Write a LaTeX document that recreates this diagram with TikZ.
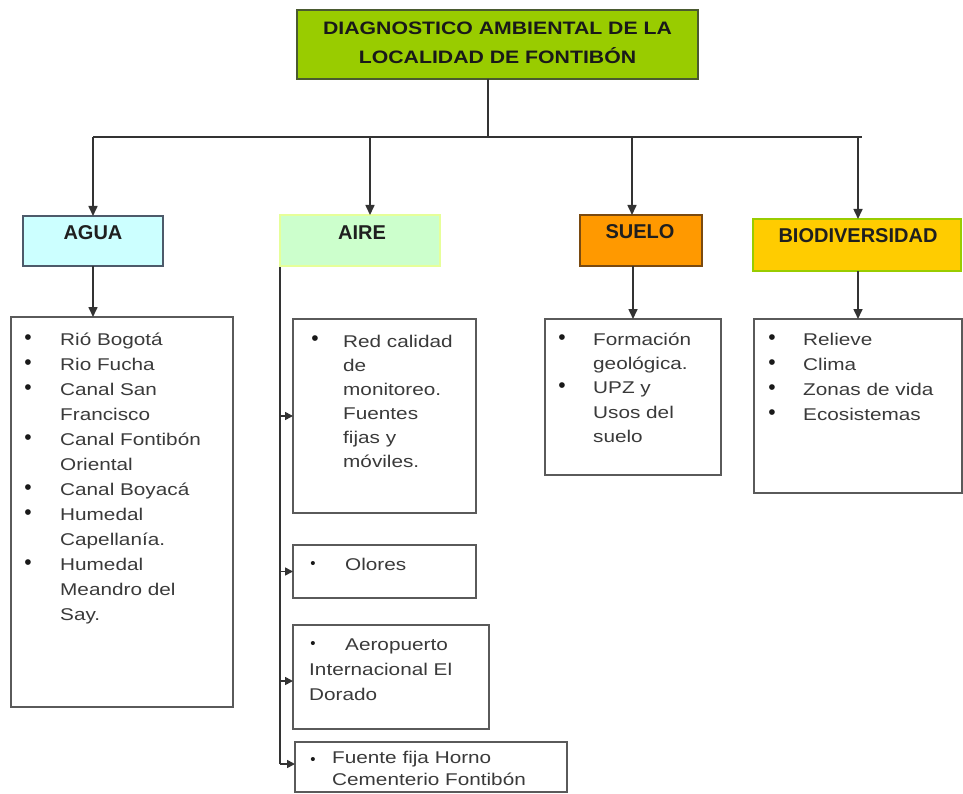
\documentclass[tikz,border=0pt]{standalone}
\usepackage{fontspec}
\setmainfont{Liberation Sans}
\newfontfamily\listfont{Liberation Sans}[FakeStretch=1.22]
\newfontfamily\titlefont{Liberation Sans}[FakeStretch=1.18]
\usetikzlibrary{arrows.meta}
\definecolor{titlegreen}{HTML}{99CC00}
\definecolor{titleborder}{HTML}{4A5A30}
\definecolor{aguafill}{HTML}{CCFFFF}
\definecolor{aguaborder}{HTML}{4D5A6A}
\definecolor{airefill}{HTML}{CCFFCC}
\definecolor{aireborder}{HTML}{E6FF99}
\definecolor{suelofill}{HTML}{FF9900}
\definecolor{sueloborder}{HTML}{7A4A10}
\definecolor{biofill}{HTML}{FFCC00}
\definecolor{bioborder}{HTML}{99CC00}
\definecolor{boxgray}{HTML}{5A5A5A}
\definecolor{linegray}{HTML}{333333}
\definecolor{listtext}{HTML}{3A3A3A}
\begin{document}
\begin{tikzpicture}[x=1pt,y=-1pt,
  rbox/.style={rectangle, anchor=north west, inner sep=0pt, outer sep=0pt},
  catbox/.style={rbox, line width=1.4pt},
  listbox/.style={rbox, draw=boxgray, line width=1.6pt, fill=white},
  cattext/.style={font=\fontsize{20}{20}\selectfont\bfseries, text=black!88, inner sep=0pt},
  titletext/.style={font=\titlefont\fontsize{18}{18}\selectfont\bfseries, text=black!90, inner sep=0pt},
  lt/.style={font=\listfont\fontsize{17}{17}\selectfont, text=listtext, anchor=base west, inner sep=0pt},
  bul/.style={font=\fontsize{21}{21}\selectfont, text=black!90, inner sep=0pt},
  sbul/.style={font=\fontsize{15}{15}\selectfont, text=black!90, inner sep=0pt},
  conn/.style={draw=linegray, line width=1.6pt},
  arr/.style={conn, -{Triangle[length=10pt,width=9pt]}},
  sarr/.style={conn, -{Triangle[length=8pt,width=8pt]}}]
\useasboundingbox (0,0) rectangle (963,794);

% title
\node[catbox, draw=titleborder, fill=titlegreen, minimum width=401, minimum height=69] (title) at (297,10) {};
\node[titletext] (title1) at (497.5,28) {DIAGNOSTICO AMBIENTAL DE LA};
\node[titletext] (title2) at (497.5,56) {LOCALIDAD DE FONTIBÓN};

% category boxes
\node[catbox, draw=aguaborder, fill=aguafill, minimum width=140, minimum height=50] (agua) at (23,216) {};
\node[cattext] (aguat) at (93,233) {AGUA};
\node[catbox, draw=aireborder, fill=airefill, line width=2pt, minimum width=160, minimum height=51] (aire) at (280,215) {};
\node[cattext] (airet) at (362,233) {AIRE};
\node[catbox, draw=sueloborder, fill=suelofill, minimum width=122, minimum height=51] (suelo) at (580,215) {};
\node[cattext] (suelot) at (640,232) {SUELO};
\node[catbox, draw=bioborder, fill=biofill, line width=2pt, minimum width=208, minimum height=52] (bio) at (753,219) {};
\node[cattext] (biot) at (858,236) {BIODIVERSIDAD};

% connectors top
\coordinate (hub) at (488,137);
\coordinate (hl) at (93,137);
\coordinate (hr) at (862,137);
\coordinate (dAire) at (370,137);
\coordinate (dSuelo) at (632,137);
\coordinate (dBio) at (858,137);
\draw[conn] (title.south -| hub) -- (hub);
\draw[conn] (hl) -- (hr);
\draw[arr] (hl) -- (hl |- agua.north);
\draw[arr] (dAire) -- (dAire |- aire.north);
\draw[arr] (dSuelo) -- (dSuelo |- suelo.north);
\draw[arr] (dBio) -- (dBio |- bio.north);

% AGUA list
\node[listbox, minimum width=222, minimum height=390] (agualist) at (11,317) {};
\draw[arr] (agua.south) -- (agua.south |- agualist.north);
\foreach \n/\yy/\t in {1/345/Rió Bogotá, 2/370/Rio Fucha, 3/395/Canal San, 4/420/Francisco,
  5/445/Canal Fontibón, 6/470/Oriental, 7/495/Canal Boyacá, 8/520/Humedal,
  9/545/Capellanía., 10/570/Humedal, 11/595/Meandro del, 12/620/Say.}
  \node[lt] (ag\n) at (60,\yy) {\t};
\foreach \n/\yy in {1/340,2/365,3/390,5/440,7/490,8/515,10/565}
  \node[bul] (agb\n) at (28,\yy) {\textbullet};

% SUELO list
\coordinate (sdrop) at (633,266);
\node[listbox, minimum width=176, minimum height=156] (suelolist) at (545,319) {};
\draw[conn] (suelo.south -| sdrop) -- (sdrop);
\draw[arr] (sdrop) -- (sdrop |- suelolist.north);
\foreach \n/\yy/\t in {1/345/Formación, 2/369/geológica., 3/393/UPZ y, 4/418/Usos del, 5/442/suelo}
  \node[lt] (su\n) at (593,\yy) {\t};
\foreach \n/\yy in {1/340,3/388}
  \node[bul] (sub\n) at (562,\yy) {\textbullet};

% BIODIVERSIDAD list
\node[listbox, minimum width=208, minimum height=174] (biolist) at (754,319) {};
\draw[arr] (bio.south -| biolist.north) -- (biolist.north);
\foreach \n/\yy/\t in {1/345/Relieve, 2/370/Clima, 3/395/Zonas de vida, 4/420/Ecosistemas}
  \node[lt] (bi\n) at (803,\yy) {\t};
\foreach \n/\yy in {1/340,2/365,3/390,4/415}
  \node[bul] (bib\n) at (772,\yy) {\textbullet};

% AIRE sub boxes
\node[listbox, minimum width=183, minimum height=194] (ai1) at (293,319) {};
\node[listbox, minimum width=183, minimum height=53] (ai2) at (293,545) {};
\node[listbox, minimum width=196, minimum height=104] (ai3) at (293,625) {};
\node[listbox, minimum width=272, minimum height=50] (ai4) at (295,742) {};

\coordinate (spinetop) at (280,267);
\coordinate (spinebot) at (280,764);
\draw[conn] (spinetop) -- (spinebot);
\draw[sarr] (spinetop |- ai1.west) -- (ai1.west);
\draw[sarr] (spinetop |- ai2.west) -- (ai2.west);
\draw[sarr] (280,681) -- (ai3.west |- 0,681);
\draw[sarr] (spinebot) -- (ai4.west |- spinebot);

\foreach \n/\yy/\t in {1/347/Red calidad, 2/371/de, 3/395/monitoreo., 4/419/Fuentes, 5/443/fijas y, 6/467/móviles.}
  \node[lt] (ar\n) at (343,\yy) {\t};
\node[bul] (arb1) at (315,341) {\textbullet};

\node[lt] (ol1) at (345,570) {Olores};
\node[sbul] (olb) at (313,565) {\textbullet};

\node[lt] (ae1) at (345,650) {Aeropuerto};
\node[lt] (ae2) at (309,675) {Internacional El};
\node[lt] (ae3) at (309,700) {Dorado};
\node[sbul] (aeb) at (313,645) {\textbullet};

\node[lt] (fu1) at (332,763) {Fuente fija Horno};
\node[lt] (fu2) at (332,785) {Cementerio Fontibón};
\node[sbul] (fub) at (313,761) {\textbullet};
\end{tikzpicture}
\end{document}
